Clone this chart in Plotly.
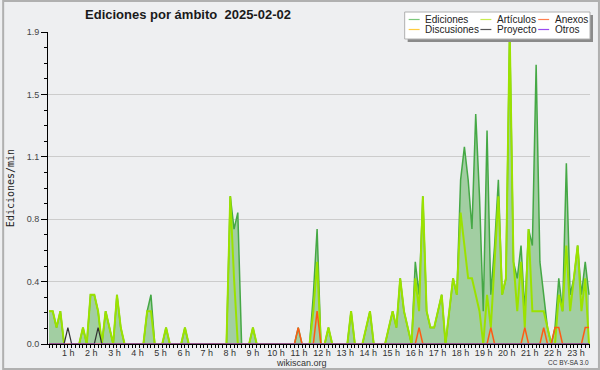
import plotly.graph_objects as go

# ---------------- data (edits per minute, 10-minute slots) ----------------
slots_h = [i / 6 for i in range(144)]  # slot start, in hours

ediciones = [
    0.2, 0.2, 0.1, 0.2, 0, 0, 0, 0, 0, 0.1, 0, 0.3, 0.3, 0.2, 0, 0.2, 0.1, 0, 0.3, 0.1, 0, 0, 0, 0,
    0, 0, 0.2, 0.3, 0, 0, 0, 0.1, 0, 0, 0, 0, 0.1, 0, 0, 0, 0, 0, 0, 0, 0, 0, 0, 0,
    0.9, 0.7, 0.8, 0, 0, 0, 0.1, 0, 0, 0, 0, 0, 0, 0, 0, 0, 0, 0, 0.1, 0, 0, 0, 0.3, 0.7,
    0, 0, 0.1, 0, 0, 0, 0, 0, 0.2, 0, 0, 0, 0.1, 0.2, 0, 0, 0, 0, 0.1, 0.2, 0.1, 0.4, 0.2, 0.1,
    0, 0.5, 0.3, 0.9, 0.2, 0.1, 0.1, 0.2, 0.3, 0, 0.2, 0.4, 0.3, 1.0, 1.2, 1.0, 0.7, 1.4, 0.9, 0.2, 1.3, 0.3, 0.6, 1.0,
    0.3, 0.4, 1.9, 0.5, 0.4, 0.6, 0.2, 0.7, 0.6, 1.7, 0.5, 0.3, 0.1, 0, 0.1, 0.4, 0.2, 1.1, 0.3, 0.4, 0.6, 0.3, 0.5, 0.3,
]
articulos = [
    0.2, 0.2, 0.1, 0.2, 0, 0, 0, 0, 0, 0.1, 0, 0.3, 0.3, 0.2, 0, 0.2, 0.1, 0, 0.3, 0.1, 0, 0, 0, 0,
    0, 0, 0.2, 0.2, 0, 0, 0, 0.1, 0, 0, 0, 0, 0.1, 0, 0, 0, 0, 0, 0, 0, 0, 0, 0, 0,
    0.9, 0.4, 0, 0, 0, 0, 0.1, 0, 0, 0, 0, 0, 0, 0, 0, 0, 0, 0, 0, 0, 0, 0, 0.2, 0.5,
    0, 0, 0.1, 0, 0, 0, 0, 0, 0.2, 0, 0, 0, 0.1, 0.2, 0, 0, 0, 0, 0.1, 0.2, 0.1, 0.4, 0.2, 0.1,
    0, 0.4, 0.2, 0.9, 0.2, 0.1, 0.1, 0.2, 0.3, 0, 0.2, 0.4, 0.3, 0.8, 0.6, 0.4, 0.4, 0.3, 0.2, 0, 0.3, 0.1, 0.5, 0.9,
    0.3, 0.4, 1.9, 0.5, 0.2, 0.5, 0.1, 0.7, 0.2, 0.2, 0.2, 0.2, 0.1, 0, 0, 0.3, 0.2, 0.6, 0.2, 0.4, 0.6, 0.2, 0.4, 0,
]
anexos = [
    0, 0, 0, 0, 0, 0, 0, 0, 0, 0, 0, 0, 0, 0, 0, 0, 0, 0, 0, 0, 0, 0, 0, 0,
    0, 0, 0, 0, 0, 0, 0, 0, 0, 0, 0, 0, 0, 0, 0, 0, 0, 0, 0, 0, 0, 0, 0, 0,
    0, 0, 0, 0, 0, 0, 0, 0, 0, 0, 0, 0, 0, 0, 0, 0, 0, 0, 0.1, 0, 0, 0, 0, 0.2,
    0, 0, 0, 0, 0, 0, 0, 0, 0, 0, 0, 0, 0, 0, 0, 0, 0, 0, 0, 0, 0, 0, 0, 0,
    0, 0, 0.1, 0, 0, 0, 0, 0, 0, 0, 0, 0, 0, 0, 0, 0, 0, 0, 0, 0, 0, 0.1, 0, 0,
    0, 0, 0, 0, 0, 0, 0.1, 0, 0, 0, 0, 0.1, 0, 0, 0.1, 0.1, 0, 0, 0, 0, 0, 0, 0.1, 0.1,
]
discusiones = [0] * 144
proyecto = [
    0, 0, 0, 0, 0, 0.1, 0, 0, 0, 0, 0, 0, 0, 0.1, 0, 0, 0, 0, 0, 0, 0, 0, 0, 0,
] + [0] * 120
otros = [0] * 144

y_tickvals = [0, 0.38, 0.76, 1.14, 1.52, 1.9]
y_ticktext = ["0.0", "0.4", "0.8", "1.1", "1.5", "1.9"]
hour_labels = [f"{k} h" for k in range(1, 24)]

# ---------------- layout geometry ----------------
W, H = 600, 370
ML, MR, MT, MB = 46, 10, 32, 26
PW, PH = W - ML - MR, H - MT - MB
BG = "#eeeff1"


def px(x):
    return (x - ML) / PW


def py(y):
    return (H - MB - y) / PH


x_scale = 22.74  # px per hour
x_range = [-1 / x_scale, 143 / 6 + 1 / x_scale]
hour_label_pos = [0.85 + 1.0185 * (k - 1) for k in range(1, 24)]

fig = go.Figure()
fig.add_trace(go.Scatter(x=slots_h, y=ediciones, name="Ediciones", mode="lines",
                         line=dict(color="#45a845", width=1.5), fill="tozeroy",
                         fillcolor="#a2cea2", showlegend=False))
fig.add_trace(go.Scatter(x=slots_h, y=articulos, name="Artículos", mode="lines",
                         line=dict(color="#9be200", width=2), showlegend=False))
fig.add_trace(go.Scatter(x=slots_h, y=anexos, name="Anexos", mode="lines",
                         line=dict(color="#ff5a14", width=1.5), showlegend=False))
fig.add_trace(go.Scatter(x=slots_h, y=discusiones, name="Discusiones", mode="lines",
                         line=dict(color="#ffcc33", width=1), showlegend=False))
fig.add_trace(go.Scatter(x=slots_h, y=proyecto, name="Proyecto", mode="lines",
                         line=dict(color="#333333", width=1.2), showlegend=False))
fig.add_trace(go.Scatter(x=slots_h, y=otros, name="Otros", mode="lines",
                         line=dict(color="#9944ee", width=1), showlegend=False))

shapes = []
annotations = []

# custom legend box with shadow
shapes.append(dict(type="rect", xref="paper", yref="paper", x0=px(407), x1=px(593),
                   y0=py(42), y1=py(15), fillcolor="#8a8a8a", line=dict(width=0), layer="above"))
shapes.append(dict(type="rect", xref="paper", yref="paper", x0=px(404), x1=px(590),
                   y0=py(39), y1=py(12), fillcolor="white", line=dict(color="#b0b0b0", width=1),
                   layer="above"))
legend_items = [
    ("Ediciones", "#7cc87c", 408, 424, 19.5),
    ("Artículos", "#c8ec50", 480, 497, 19.5),
    ("Anexos", "#ff8050", 538, 555, 19.5),
    ("Discusiones", "#ffcc40", 408, 424, 29.5),
    ("Proyecto", "#555555", 480, 497, 29.5),
    ("Otros", "#9a4cf0", 538, 555, 29.5),
]
for name, col, lx, tx, ly in legend_items:
    shapes.append(dict(type="line", xref="paper", yref="paper", x0=px(lx), x1=px(lx + 11),
                       y0=py(ly), y1=py(ly), line=dict(color=col, width=1.2), layer="above"))
    annotations.append(dict(text=name, xref="paper", yref="paper", x=px(tx - 1), y=py(ly),
                            xanchor="left", yanchor="middle", showarrow=False, borderpad=0,
                            font=dict(family="Liberation Sans", size=10, color="#222222")))

# outer border
shapes.append(dict(type="rect", xref="paper", yref="paper", x0=px(1), x1=px(599),
                   y0=py(369), y1=py(1), line=dict(color="#b0b0b0", width=2), layer="above"))

annotations.append(dict(text="wikiscan.org", xref="paper", yref="paper", x=px(300), y=py(363),
                        xanchor="center", yanchor="middle", showarrow=False, borderpad=0,
                        font=dict(family="Liberation Sans", size=9, color="#333333")))
annotations.append(dict(text="CC BY-SA 3.0", xref="paper", yref="paper", x=px(590), y=py(362.5),
                        xanchor="right", yanchor="middle", showarrow=False, borderpad=0,
                        font=dict(family="Liberation Sans", size=6.5, color="#333333")))

fig.update_layout(
    width=W, height=H,
    margin=dict(l=ML, r=MR, t=MT, b=MB, pad=0),
    paper_bgcolor=BG, plot_bgcolor=BG,
    title=dict(text="Ediciones por ámbito \u00a02025-02-02", x=188 / W, xanchor="center",
               y=1 - 14 / H, yanchor="middle",
               font=dict(family="Liberation Sans", size=13, color="#1a1a1a", weight="bold")),
    showlegend=False,
    shapes=shapes,
    annotations=annotations,
    xaxis=dict(range=x_range, showgrid=False, zeroline=False, showline=True,
               linecolor="black", linewidth=1, tickmode="array", tickvals=hour_label_pos,
               ticktext=hour_labels, ticks="", tickfont=dict(family="Liberation Sans", size=9,
                                                            color="#333333"),
               minor=dict(tickmode="linear", tick0=0, dtick=1 / 6, ticks="outside", ticklen=3,
                          tickcolor="black", tickwidth=1, showgrid=False)),
    yaxis=dict(range=[0, 1.9], showgrid=True, gridcolor="#cccccc", gridwidth=1, zeroline=False,
               showline=True, linecolor="black", linewidth=1, tickmode="array",
               tickvals=y_tickvals, ticktext=y_ticktext, ticks="outside", ticklen=6,
               tickcolor="black", tickfont=dict(family="Liberation Sans", size=9, color="#444444"),
               minor=dict(tickmode="linear", tick0=0, dtick=0.095, ticks="outside", ticklen=3,
                          tickcolor="black", showgrid=False),
               title=dict(text="Ediciones/min", standoff=10,
                          font=dict(family="DejaVu Sans Mono", size=10, color="#222222"))),
)

fig.write_html("out.html", config={"displayModeBar": False},
               post_script="document.body.style.margin='0';")
